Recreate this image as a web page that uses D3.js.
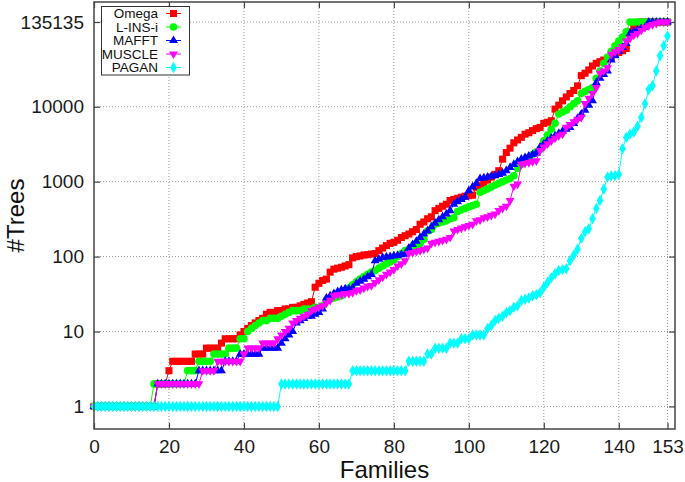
<!DOCTYPE html>
<html>
<head>
<meta charset="utf-8">
<script src="https://cdnjs.cloudflare.com/ajax/libs/d3/7.8.5/d3.min.js"></script>
<style>
    body { margin: 0; background: #fff; }
    text { font-family: "Liberation Sans", Arial, sans-serif; }
</style>
</head>
<body>
<div id="chart"></div>
<script>
// number of trees per family, sorted, one value per family (x = 0..153)
var omega = [
    1, 1, 1, 1, 1, 1, 1, 1, 1, 1, 1, 1, 1, 1, 1, 1, 1,
    2, 2, 2, 3, 4, 4, 4, 4, 4, 4, 5, 5, 5, 6, 6, 6, 6, 7, 8, 8, 8, 8, 9,
    10, 11, 12, 13, 14, 15, 17, 18, 18, 19, 19, 20, 20, 21, 21, 22, 23, 24, 25,
    39, 44, 48, 50, 62, 68, 70, 72, 75, 78,
    96, 100, 102, 105, 106, 108, 110, 120, 130, 140, 150, 155, 165,
    180, 190, 200, 215, 230, 270, 290, 320, 340, 410, 440, 470, 500,
    560, 580, 600, 620, 640, 650, 660,
    840, 900, 960, 1050, 1150, 1250, 1400, 2000, 2450, 2800, 3300,
    3600, 3900, 4300, 4500, 4800, 5100, 5300, 6000, 6200, 6500, 9300, 10500,
    12000, 13500, 15000, 16500, 19000, 26000, 28000, 31000, 35000,
    38000, 40000, 42000, 44000, 46000, 50000, 53000, 56000, 60000,
    100000, 115000, 125000,
    135135, 135135, 135135, 135135, 135135, 135135, 135135, 135135
];
var linsi = [
    1, 1, 1, 1, 1, 1, 1, 1, 1, 1, 1, 1, 1, 1, 1, 1,
    2, 2, 2, 2, 2, 2, 2, 2, 2, 3, 3, 3, 4, 4, 4, 4, 5, 5, 5, 5, 6, 6, 6, 8, 8,
    10, 11, 12, 13, 14, 14, 15, 15, 15, 16, 17, 18, 19, 19, 19, 20, 20, 20, 21, 21, 22,
    26, 27, 28, 29, 30, 35, 38, 42, 46, 50, 54, 58, 62,
    65, 70, 75, 80, 85, 90, 100, 110, 120, 125, 130, 140, 150, 170,
    220, 230, 270, 280, 290, 300, 320, 330, 400, 420, 440, 460, 480, 500,
    720, 760, 800, 850, 900, 950, 1000, 1050, 1100, 1200,
    1500, 1700, 1900, 2100, 2300, 2500, 2700, 3500, 4200, 5000, 6000,
    8000, 8500, 9000, 10000, 11000, 12000, 15000, 16000, 17000, 18000,
    24000, 30000, 38000, 46000, 55000, 65000, 75000, 85000, 100000,
    135135, 135135, 135135, 135135, 135135, 135135, 135135, 135135, 135135, 135135, 135135
];
var mafft = [
    1, 1, 1, 1, 1, 1, 1, 1, 1, 1, 1, 1, 1, 1, 1, 1, 1,
    2, 2, 2, 2, 2, 2, 2, 2, 2, 2, 2, 3, 3, 3, 3, 3, 3, 3, 4, 4, 4, 4,
    5, 5, 5, 5, 5, 5, 6, 6, 6, 6, 6, 7, 8, 9, 10,
    13, 14, 15, 16, 16, 17, 18, 20, 28, 30, 32, 34, 36, 37, 37, 38,
    44, 47, 50, 54, 58, 88, 92, 97, 99, 100, 102, 104, 106, 108,
    130, 145, 160, 180, 200, 220, 250, 280, 310, 340, 370, 410,
    500, 540, 580, 620, 760, 850, 950, 1100,
    1120, 1150, 1180, 1200, 1250, 1300,
    1400, 1550, 1700, 1850, 2000, 2100, 2200, 2300, 2400,
    2900, 3200, 3500, 3800, 4100, 4400, 4700, 5000, 5300,
    6000, 7000, 8000, 9000, 10500, 12000, 21000, 24000, 27000, 30000,
    42000, 48000, 55000, 62000, 70000, 95000, 100000, 105000, 110000, 115000,
    135135, 135135, 135135, 135135, 135135, 135135
];
var muscle = [
    1, 1, 1, 1, 1, 1, 1, 1, 1, 1, 1, 1, 1, 1, 1, 1, 1,
    2, 2, 2, 2, 2, 2, 2, 2, 2, 2, 2, 2, 3, 3, 3, 3, 4, 4, 4, 4, 4, 4, 4,
    5, 6, 6, 6, 6, 7, 7, 7, 7, 8, 9, 10, 11,
    13, 14, 15, 16, 17, 19, 20, 21, 22, 24, 26, 30, 31, 31, 32, 32, 33,
    35, 36, 38, 40, 41, 45, 49, 53, 58, 62, 67, 75, 80, 88,
    110, 113, 117, 120, 125, 130, 150, 155, 160, 165, 170, 180,
    220, 230, 240, 250, 260, 270, 300, 310, 330, 340, 355, 370,
    410, 440, 470, 560, 870, 930, 1700, 1750, 1800, 1850, 1900,
    2600, 2900, 3200, 3500, 3800, 4100, 4300, 5300, 5800, 6300, 6800, 7200,
    11000, 13000, 15000, 18000, 28000, 30000, 33000, 50000, 54000, 58000, 63000,
    75000, 82000, 90000, 95000, 105000, 115000, 120000, 125000, 130000,
    135135, 135135, 135135
];
var pagan = [
    1, 1, 1, 1, 1, 1, 1, 1, 1, 1, 1, 1, 1, 1, 1, 1, 1, 1, 1, 1, 1, 1, 1, 1, 1,
    1, 1, 1, 1, 1, 1, 1, 1, 1, 1, 1, 1, 1, 1, 1, 1, 1, 1, 1, 1, 1, 1, 1, 1, 1,
    2, 2, 2, 2, 2, 2, 2, 2, 2, 2, 2, 2, 2, 2, 2, 2, 2, 2, 2,
    3, 3, 3, 3, 3, 3, 3, 3, 3, 3, 3, 3, 3, 3, 3,
    4, 4, 4, 4, 4, 5, 5, 6, 6, 6, 6, 7, 7, 7, 8, 8, 8, 9, 9, 9, 9,
    11, 12, 14, 15, 16, 18, 19, 21, 22, 26, 27, 28, 30, 31, 33,
    39, 45, 52, 59, 65, 67, 69, 88, 105, 125,
    175, 215, 235, 320, 440, 560, 800, 1150, 1200, 1200, 1250,
    2750, 3900, 4300, 4600, 5500,
    7200, 11000, 17000, 19000, 30000, 48000, 65000, 88000
];

var seriesNames = ["Omega", "L-INS-i", "MAFFT", "MUSCLE", "PAGAN"];
var seriesColors = ["#ff0000", "#00ff00", "#0000ff", "#ff00ff", "#00ffff"];
var xTicks = [0, 20, 40, 60, 80, 100, 120, 140, 153];
var yTicks = [1, 10, 100, 1000, 10000, 135135];

var allSeries = [omega, linsi, mafft, muscle, pagan];

// markers: square, circle, triangle up, triangle down, diamond
var symbolTypes = [d3.symbolSquare, d3.symbolCircle, d3.symbolTriangle, d3.symbolTriangle, d3.symbolDiamond];
var symbolSizes = [50, 46, 34, 34, 38];
var symbolRotate = [0, 0, 0, 180, 0];

var margin = { top: 2, right: 10, bottom: 53, left: 94 },
    width = 685 - margin.left - margin.right,
    height = 482 - margin.top - margin.bottom;

var x = d3.scaleLinear().domain([0, 155]).range([0, width]);
var y = d3.scaleLog().domain([0.5, 250000]).range([height, 0]);

var svg = d3.select("#chart").append("svg")
    .attr("width", 685)
    .attr("height", 482);

var g = svg.append("g")
    .attr("transform", "translate(" + margin.left + "," + margin.top + ")");

// dotted grid
g.selectAll(".gx")
    .data(xTicks.filter(function (d) { return d > 0; }))
    .enter().append("line")
    .attr("x1", function (d) { return x(d); })
    .attr("x2", function (d) { return x(d); })
    .attr("y1", 0)
    .attr("y2", height)
    .attr("stroke", "#999")
    .attr("stroke-dasharray", "1,2");

g.selectAll(".gy")
    .data(yTicks)
    .enter().append("line")
    .attr("x1", 0)
    .attr("x2", width)
    .attr("y1", function (d) { return y(d); })
    .attr("y2", function (d) { return y(d); })
    .attr("stroke", "#999")
    .attr("stroke-dasharray", "1,2");

// axes, ticks pointing inward
var axisColor = "#444";

function styleAxis(sel) {
    sel.select(".domain").remove();
    sel.selectAll(".tick line").attr("stroke", axisColor).attr("stroke-width", 1.2);
    sel.selectAll(".tick text")
        .attr("fill", "#1a1a1a")
        .style("font-size", "19px")
        .style("font-family", "'Liberation Sans', Arial, sans-serif");
}

g.append("g")
    .attr("transform", "translate(0," + height + ")")
    .call(d3.axisBottom(x).tickValues(xTicks).tickSize(-6).tickPadding(11))
    .call(styleAxis);

g.append("g")
    .call(d3.axisTop(x).tickValues(xTicks).tickSize(-6).tickFormat(""))
    .call(styleAxis);

g.append("g")
    .call(d3.axisLeft(y).tickValues(yTicks).tickSize(-6).tickPadding(10).tickFormat(d3.format("d")))
    .call(styleAxis);

g.append("g")
    .attr("transform", "translate(" + width + ",0)")
    .call(d3.axisRight(y).tickValues(yTicks).tickSize(-6).tickFormat(""))
    .call(styleAxis);

// series
var line = d3.line()
    .x(function (d, i) { return x(i); })
    .y(function (d) { return y(d); });

allSeries.forEach(function (data, k) {
    g.append("path")
        .datum(data)
        .attr("fill", "none")
        .attr("stroke", seriesColors[k])
        .attr("stroke-width", 1)
        .attr("d", line);

    g.selectAll(".pt" + k)
        .data(data)
        .enter().append("path")
        .attr("class", "pt" + k)
        .attr("transform", function (d, i) {
            return "translate(" + x(i) + "," + y(d) + ") rotate(" + symbolRotate[k] + ")";
        })
        .attr("d", d3.symbol().type(symbolTypes[k]).size(symbolSizes[k]))
        .attr("fill", seriesColors[k]);
});

// frame
g.append("rect")
    .attr("width", width)
    .attr("height", height)
    .attr("fill", "none")
    .attr("stroke", axisColor)
    .attr("stroke-width", 1.5);

// legend
var legend = svg.append("g");
legend.append("rect")
    .attr("x", 101.5)
    .attr("y", 6.5)
    .attr("width", 88)
    .attr("height", 68.5)
    .attr("fill", "#fff")
    .attr("stroke", "#333")
    .attr("stroke-width", 1);

seriesNames.forEach(function (name, k) {
    var ly = 13.5 + k * 13.5;
    legend.append("text")
        .attr("x", 158)
        .attr("y", ly)
        .attr("dy", "0.35em")
        .attr("text-anchor", "end")
        .attr("fill", "#111")
        .style("font-size", "13.5px")
        .text(name);
    legend.append("line")
        .attr("x1", 166).attr("x2", 181)
        .attr("y1", ly).attr("y2", ly)
        .attr("stroke", seriesColors[k]);
    legend.append("path")
        .attr("transform", "translate(173.5," + ly + ") rotate(" + symbolRotate[k] + ")")
        .attr("d", d3.symbol().type(symbolTypes[k]).size(symbolSizes[k]))
        .attr("fill", seriesColors[k]);
});

// axis titles
svg.append("text")
    .attr("x", margin.left + width / 2)
    .attr("y", 478)
    .attr("text-anchor", "middle")
    .attr("fill", "#111")
    .style("font-size", "24px")
    .text("Families");

svg.append("text")
    .attr("transform", "translate(24," + (margin.top + height / 2) + ") rotate(-90)")
    .attr("text-anchor", "middle")
    .attr("fill", "#111")
    .style("font-size", "24px")
    .text("#Trees");
</script>
</body>
</html>
